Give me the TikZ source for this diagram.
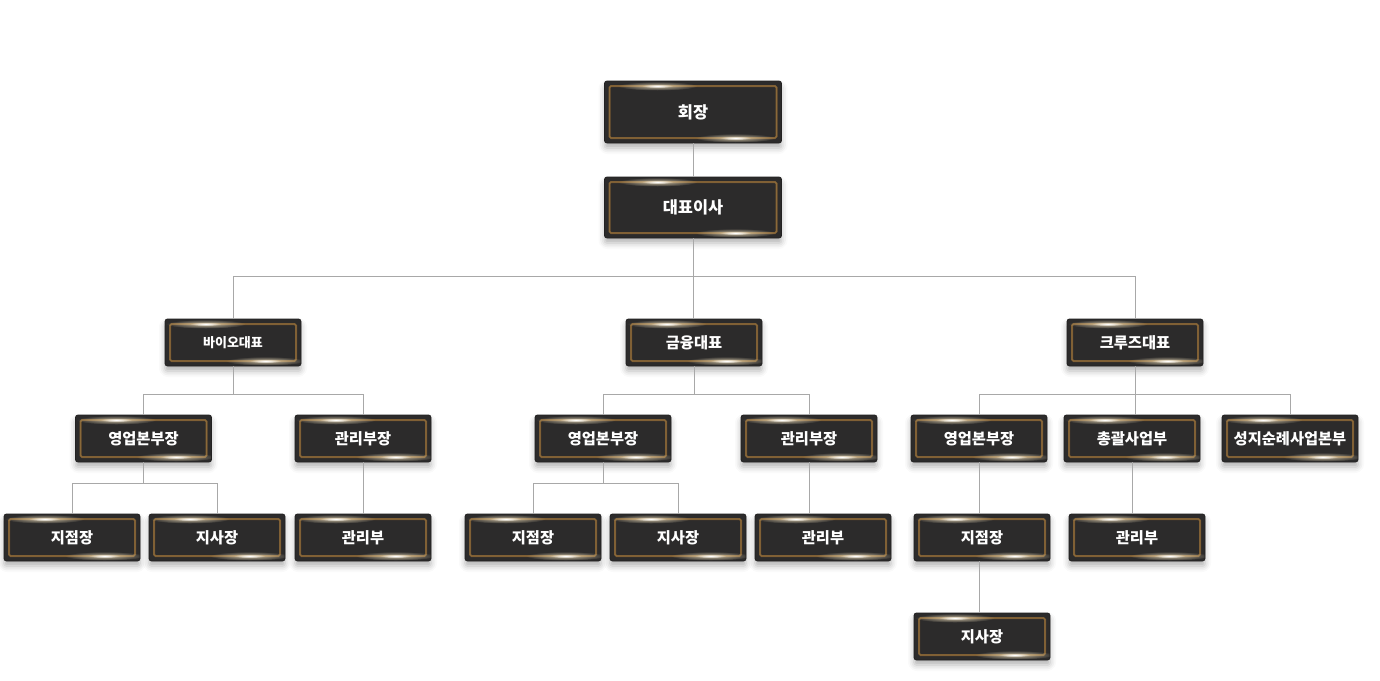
\documentclass[tikz,border=0pt]{standalone}
\usepackage{fontspec}
\newfontfamily\kr{Noto Sans CJK KR}
\usetikzlibrary{fadings,calc,shadows.blur}
\definecolor{boxfill}{HTML}{2C2B2B}
\definecolor{boxedge}{HTML}{232222}
\definecolor{goldline}{HTML}{8A6939}
\definecolor{golddark}{HTML}{6E5230}
\definecolor{glowc}{HTML}{F6E6C2}
\definecolor{conn}{HTML}{A8A8A8}
\tikzfading[name=glowfade, inner color=transparent!0, outer color=transparent!100]
\tikzset{
  obox/.style={minimum width=136pt, minimum height=47pt, inner sep=0pt,
    rounded corners=2.5pt, fill=boxfill, draw=boxedge, line width=0.8pt,
    text=white, font=\kr\bfseries\fontsize{15.3}{17}\selectfont,
    blur shadow={shadow xshift=0pt, shadow yshift=-5pt, shadow blur radius=6pt, shadow opacity=30},
    path picture={
      \draw[golddark, line width=2pt, rounded corners=1.5pt]
        ([shift={(5pt,-5pt)}]path picture bounding box.north west)
        rectangle ([shift={(-5pt,5pt)}]path picture bounding box.south east);
      \draw[goldline, line width=1.2pt, rounded corners=1.5pt]
        ([shift={(5pt,-5pt)}]path picture bounding box.north west)
        rectangle ([shift={(-5pt,5pt)}]path picture bounding box.south east);
      \fill[glowc, path fading=glowfade, fill opacity=0.8]
        ($(path picture bounding box.north west)!0.3!(path picture bounding box.north east)+(0,-5pt)$)
        ellipse (40pt and 4.5pt);
      \fill[white, path fading=glowfade]
        ($(path picture bounding box.north west)!0.3!(path picture bounding box.north east)+(0,-5pt)$)
        ellipse (16pt and 2pt);
      \fill[glowc, path fading=glowfade, fill opacity=0.8]
        ($(path picture bounding box.south west)!0.74!(path picture bounding box.south east)+(0,5pt)$)
        ellipse (40pt and 4.5pt);
      \fill[white, path fading=glowfade]
        ($(path picture bounding box.south west)!0.74!(path picture bounding box.south east)+(0,5pt)$)
        ellipse (16pt and 2pt);
    }},
  topbox/.style={obox, minimum width=177pt, minimum height=62pt, font=\kr\bfseries\fontsize{16.4}{18}\selectfont},
  smallfont/.style={font=\kr\bfseries\fontsize{13}{15}\selectfont},
  link/.style={draw=conn, line width=0.7pt}
}
\begin{document}
\begin{tikzpicture}[x=1pt,y=1pt]
\useasboundingbox (0,0) rectangle (1380,-680);
\node[topbox] (n0) at (693,-112) {회장};
\node[topbox, minimum height=61pt] (n1) at (693,-207.5) {대표이사};
\node[obox, smallfont] (b1) at (233,-342.5) {바이오대표};
\node[obox] (b2) at (694,-342.5) {금융대표};
\node[obox] (b3) at (1135,-342.5) {크루즈대표};
\node[obox] (c1) at (143.5,-438.5) {영업본부장};
\node[obox] (c2) at (363,-438.5) {관리부장};
\node[obox] (c3) at (603,-438.5) {영업본부장};
\node[obox] (c4) at (809,-438.5) {관리부장};
\node[obox] (c5) at (979,-438.5) {영업본부장};
\node[obox] (c6) at (1132,-438.5) {총괄사업부};
\node[obox] (c7) at (1290,-438.5) {성지순례사업본부};
\node[obox] (d1) at (72,-537.5) {지점장};
\node[obox] (d2) at (217,-537.5) {지사장};
\node[obox] (d3) at (363,-537.5) {관리부};
\node[obox] (d4) at (533,-537.5) {지점장};
\node[obox] (d5) at (678,-537.5) {지사장};
\node[obox] (d6) at (823,-537.5) {관리부};
\node[obox] (d7) at (982,-537.5) {지점장};
\node[obox] (d8) at (1137,-537.5) {관리부};
\node[obox] (e1) at (982,-636.5) {지사장};
% buses
\path (n1.south) ++(0,-38) coordinate (k0);
\path (b1.south) ++(0,-28) coordinate (k1);
\path (b2.south) ++(0,-28) coordinate (k2);
\path (b3.south) ++(0,-28) coordinate (k3);
\path (c1.south) ++(0,-21) coordinate (k4);
\path (c3.south) ++(0,-21) coordinate (k5);
\draw[link] (n0.south) -- (n1.north);
\draw[link] (n1.south) -- (k0);
\draw[link] (b1.north) |- (k0) -| (b3.north);
\draw[link] (k0) -- (k0 |- b2.north);
\draw[link] (b1.south) -- (k1);
\draw[link] (c1.north) |- (k1) -| (c2.north);
\draw[link] (b2.south) -- (k2);
\draw[link] (c3.north) |- (k2) -| (c4.north);
\draw[link] (b3.south) -- (k3);
\draw[link] (c5.north) |- (k3) -| (c7.north);
\draw[link] (k3) -- (k3 |- c6.north);
\draw[link] (c1.south) -- (k4);
\draw[link] (d1.north) |- (k4) -| (d2.north);
\draw[link] (c2.south) -- (d3.north);
\draw[link] (c3.south) -- (k5);
\draw[link] (d4.north) |- (k5) -| (d5.north);
\draw[link] (c4.south) -- (c4.south |- d6.north);
\draw[link] (c5.south) -- (c5.south |- d7.north);
\draw[link] (c6.south) -- (c6.south |- d8.north);
\draw[link] (c5.south |- d7.south) -- (c5.south |- e1.north);
\end{tikzpicture}
\end{document}
